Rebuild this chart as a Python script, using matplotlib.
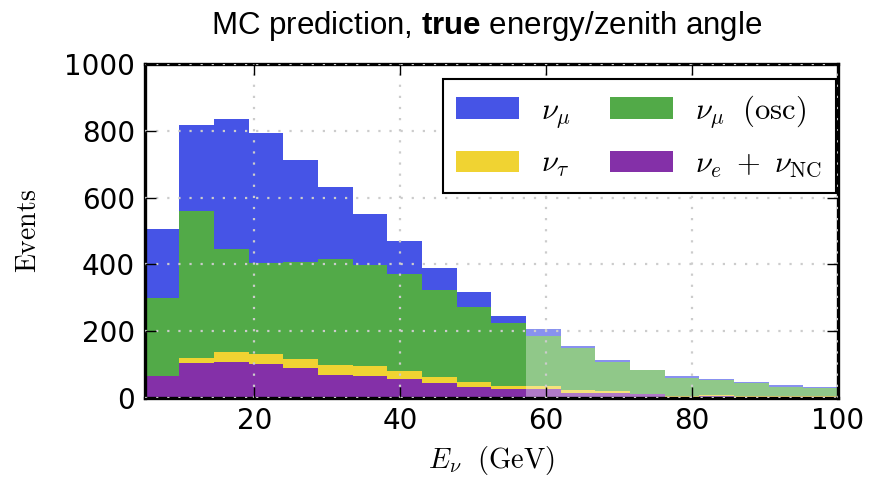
import numpy as np
import matplotlib
matplotlib.use('Agg')
import matplotlib.pyplot as plt

# 20 equal bins in true neutrino energy (GeV)
edges = np.linspace(5, 100, 21)

# events per bin for each flavour / interaction class
nue_nc = [64, 105, 107, 100, 90, 67, 65, 57, 43, 32, 25, 25, 14, 13, 10, 3, 4, 2, 3, 3]
nutau = [0, 13, 30, 32, 27, 32, 29, 22, 19, 15, 9, 10, 8, 6, 2, 1, 5, 2, 3, 2]
numu_osc = [235, 441, 309, 272, 290, 317, 304, 292, 262, 224, 189, 151, 126, 89, 70, 56, 45, 41, 26, 24]
numu = [441, 698, 699, 662, 597, 533, 458, 391, 327, 269, 212, 170, 133, 94, 72, 62, 47, 43, 31, 26]

# energy above which the prediction is greyed out
e_cut = edges[11]

plt.rcParams['mathtext.fontset'] = 'cm'
plt.rcParams['mathtext.rm'] = 'Liberation Sans'
plt.rcParams['mathtext.bf'] = 'Liberation Sans:bold'

c_blue = '#4654e6'
c_green = '#52aa48'
c_yellow = '#f0d332'
c_purple = '#8430a8'

base = np.array(nue_nc)
tau_top = base + np.array(nutau)
osc_top = tau_top + np.array(numu_osc)
mu_top = tau_top + np.array(numu)

fig = plt.figure(figsize=(8.83, 4.86), dpi=100)
ax = fig.add_axes([0.164, 0.182, 0.785, 0.686])

ax.stairs(mu_top, edges, fill=True, color=c_blue, label=r'$\nu_\mu$')
ax.stairs(osc_top, edges, fill=True, color=c_green, label=r'$\nu_\mu\ \ \mathrm{(osc)}$')
ax.stairs(tau_top, edges, fill=True, color=c_yellow, label=r'$\nu_\tau$')
ax.stairs(base, edges, fill=True, color=c_purple, label=r'$\nu_e\ +\ \nu_\mathrm{NC}$')

ax.axvspan(e_cut, 100, color='white', alpha=0.36, lw=0, zorder=2)

ax.set_xlim(5, 100)
ax.set_ylim(0, 1000)
ax.set_xticks([20, 40, 60, 80, 100])
ax.set_yticks(np.arange(0, 1001, 200))
ax.grid(True, color='0.8', linestyle=(0, (1, 4)), linewidth=1.6)
ax.set_axisbelow(False)
ax.tick_params(direction='in', top=True, right=True, length=8, width=1,
               labelsize=20, pad=7)
for sp in ax.spines.values():
    sp.set_linewidth(2.4)

ax.set_xlabel(r'$E_\nu\ \ \mathrm{(GeV)}$', fontsize=20.5, labelpad=6)
ax.set_ylabel(r'$\mathrm{Events}$', fontsize=20, labelpad=16)
ax.set_title(r'MC prediction, $\mathbf{true}$ energy/zenith angle',
             fontsize=22.5, family='Liberation Sans', math_fontfamily='custom',
             pad=22, x=0.493)

h, l = ax.get_legend_handles_labels()
order = [0, 2, 1, 3]
leg = ax.legend([h[i] for i in order], [l[i] for i in order], ncol=2,
                loc='upper right', bbox_to_anchor=(0.997, 0.955), borderaxespad=0,
                fontsize=22, fancybox=False, framealpha=1, edgecolor='black',
                handlelength=2.06, handleheight=0.69, handletextpad=0.72,
                columnspacing=1.3, labelspacing=0.62, borderpad=0.45)
leg.get_frame().set_linewidth(1.5)

fig.savefig('out.png', dpi=100)
